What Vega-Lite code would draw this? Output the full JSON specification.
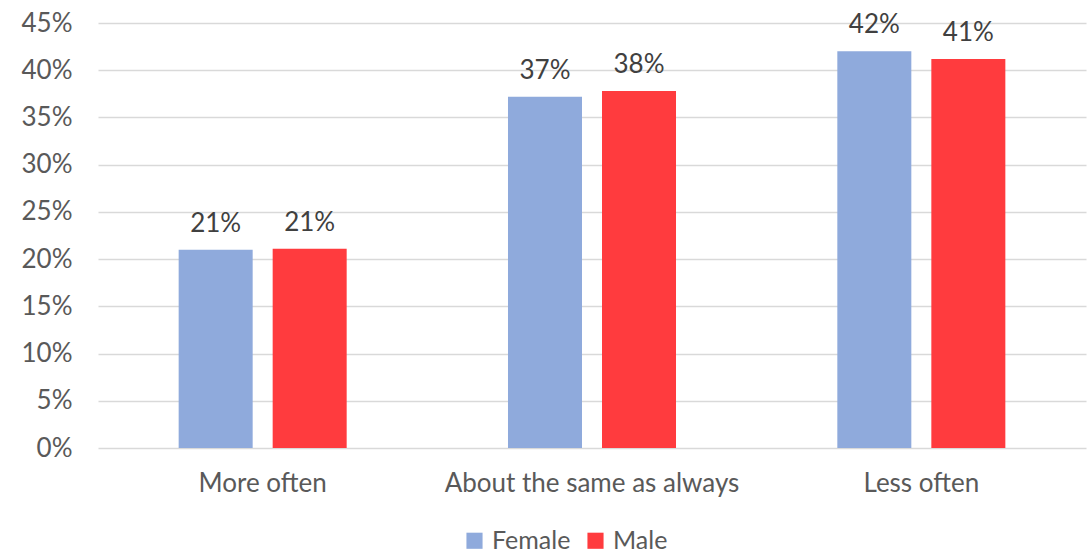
{
  "$schema": "https://vega.github.io/schema/vega-lite/v6.json",
  "width": 988,
  "height": 425,
  "autosize": {"type": "none"},
  "padding": {"left": 98, "top": 23, "right": 5, "bottom": 106},
  "background": "white",
  "config": {
    "font": "Lato",
    "view": {"stroke": null},
    "axis": {"labelFont": "Lato", "labelColor": "#595959", "labelFontSize": 26, "labelLimit": 0}
  },
  "data": {
    "values": [
      {"frequency": "More often", "gender": "Female", "share": 0.210},
      {"frequency": "More often", "gender": "Male", "share": 0.211},
      {"frequency": "About the same as always", "gender": "Female", "share": 0.372},
      {"frequency": "About the same as always", "gender": "Male", "share": 0.378},
      {"frequency": "Less often", "gender": "Female", "share": 0.420},
      {"frequency": "Less often", "gender": "Male", "share": 0.412}
    ]
  },
  "encoding": {
    "x": {
      "field": "frequency",
      "type": "nominal",
      "sort": ["More often", "About the same as always", "Less often"],
      "scale": {"paddingInner": 0, "paddingOuter": 0},
      "axis": {"title": null, "labelAngle": 0, "ticks": false, "domain": false, "labelPadding": 22, "labelBaseline": "top"}
    },
    "xOffset": {
      "field": "gender",
      "type": "nominal",
      "sort": ["Female", "Male"],
      "scale": {"paddingInner": 0.2128, "paddingOuter": 0.858}
    },
    "y": {
      "field": "share",
      "type": "quantitative",
      "scale": {"domain": [0, 0.45], "nice": false},
      "axis": {
        "title": null,
        "format": ".0%",
        "values": [0, 0.05, 0.1, 0.15, 0.2, 0.25, 0.3, 0.35, 0.4, 0.45],
        "ticks": false,
        "domain": false,
        "grid": true,
        "gridColor": "#D9D9D9",
        "gridWidth": 1.5,
        "labelPadding": 26
      }
    }
  },
  "layer": [
    {
      "mark": {"type": "bar"},
      "encoding": {
        "color": {
          "field": "gender",
          "type": "nominal",
          "sort": ["Female", "Male"],
          "scale": {"domain": ["Female", "Male"], "range": ["#8FAADC", "#FF3B3E"]},
          "legend": {
            "title": null,
            "orient": "none",
            "direction": "horizontal",
            "legendX": 364,
            "legendY": 505,
            "symbolType": "square",
            "symbolSize": 260,
            "symbolStrokeWidth": 0,
            "labelFont": "Lato",
            "labelFontSize": 25,
            "labelColor": "#595959",
            "labelOffset": 5,
            "columnPadding": 12
          }
        }
      }
    },
    {
      "mark": {"type": "text", "baseline": "alphabetic", "dy": -18, "fontSize": 26, "color": "#404040", "font": "Lato"},
      "encoding": {
        "text": {"field": "share", "type": "quantitative", "format": ".0%"}
      }
    }
  ]
}
